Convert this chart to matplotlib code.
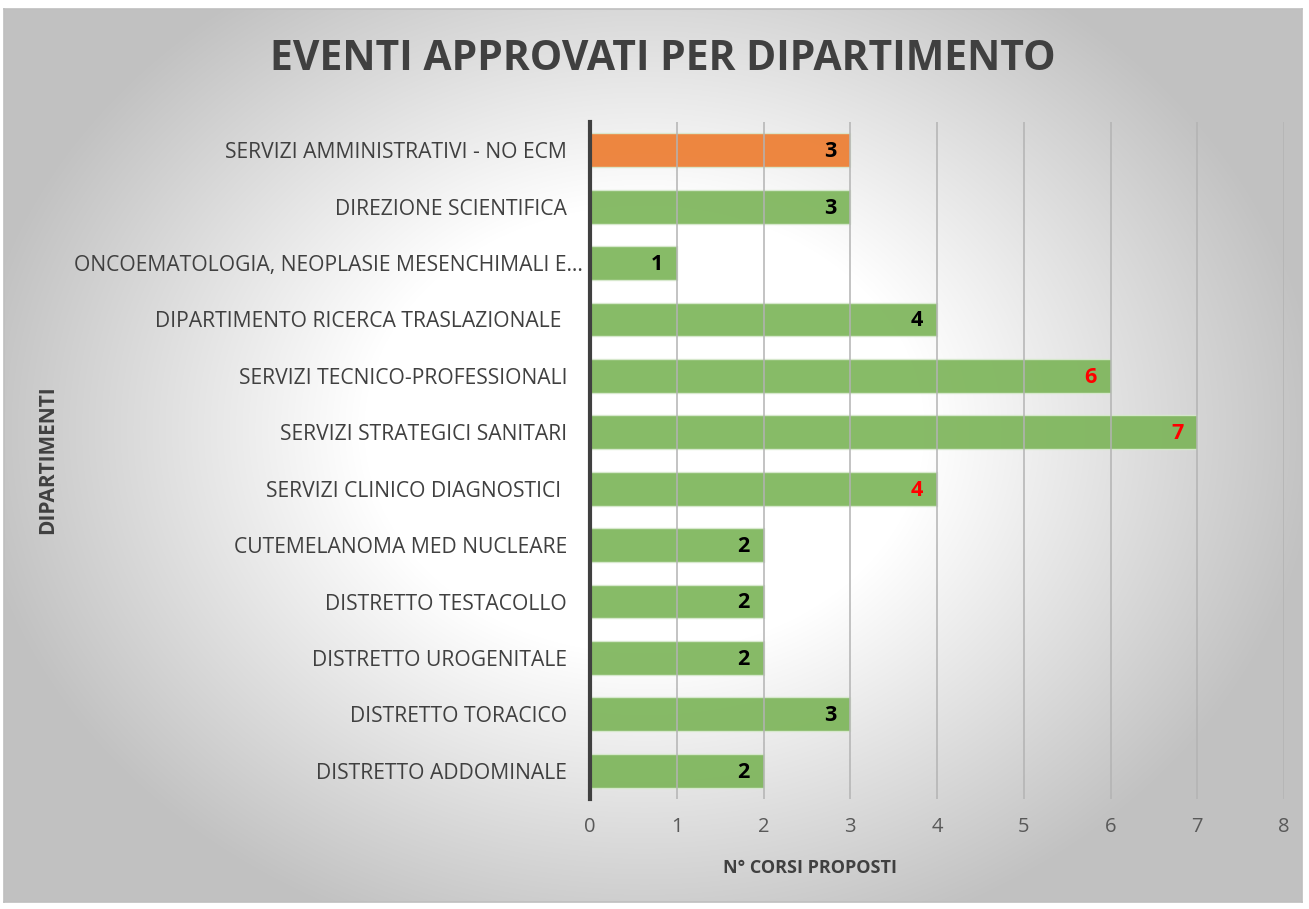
import numpy as np
import matplotlib.pyplot as plt

plt.rcParams['font.family'] = ['Open Sans', 'DejaVu Sans']

# ── Dati ──────────────────────────────────────────────────────────────────
dipartimenti = [
    'SERVIZI AMMINISTRATIVI - NO ECM',
    'DIREZIONE SCIENTIFICA',
    'ONCOEMATOLOGIA, NEOPLASIE MESENCHIMALI E…',
    'DIPARTIMENTO RICERCA TRASLAZIONALE ',
    'SERVIZI TECNICO-PROFESSIONALI',
    'SERVIZI STRATEGICI SANITARI',
    'SERVIZI CLINICO DIAGNOSTICI ',
    'CUTEMELANOMA MED NUCLEARE',
    'DISTRETTO TESTACOLLO',
    'DISTRETTO UROGENITALE',
    'DISTRETTO TORACICO',
    'DISTRETTO ADDOMINALE',
]
corsi = [3, 3, 1, 4, 6, 7, 4, 2, 2, 2, 3, 2]
evidenziati = [False, False, False, False, True, True, True,
               False, False, False, False, False]
x_ticks = [0, 1, 2, 3, 4, 5, 6, 7, 8]

VERDE = '#7DB55A'
ARANCIO = '#ED7D31'
TESTO = '#404040'

fig = plt.figure(figsize=(13.09, 9.09), dpi=100)
fig.patch.set_facecolor('white')

# ── Sfondo con gradiente radiale ─────────────────────────────────────────
bg = fig.add_axes([4 / 1309, 1 - 902 / 909, 1298 / 1309, 893 / 909])
h, w = 893, 1298
yy, xx = np.mgrid[0:h, 0:w]
dx = xx - 640
dy = (yy - 420) * 1.25
r = np.sqrt(dx ** 2 + dy ** 2)
val = 1 - 0.22 * np.clip((r - 280) / 360, 0, None)
val = np.clip(val, 0.76, 1)
bg.imshow(np.dstack([val, val, val]), aspect='auto', extent=[0, 1, 0, 1])
bg.set_xticks([])
bg.set_yticks([])
for s in bg.spines.values():
    s.set_color('#bfbfbf')
    s.set_linewidth(1.2)

# ── Grafico ──────────────────────────────────────────────────────────────
ax = fig.add_axes([590 / 1309, 1 - 799 / 909, 694 / 1309, 677 / 909])
ax.patch.set_alpha(0)

y = np.arange(len(dipartimenti))
colori = [ARANCIO] + [VERDE] * (len(dipartimenti) - 1)
ax.barh(y, corsi, height=0.6, color=colori, alpha=0.92,
        edgecolor='#d9ead0', linewidth=1.0, zorder=2)

for yi, v, rosso in zip(y, corsi, evidenziati):
    ax.annotate(str(v), xy=(v, yi), xytext=(-10, -1), textcoords='offset points',
                ha='right', va='center', fontsize=15.5, fontweight='bold',
                color='#ff0000' if rosso else 'black', zorder=4)

ax.set_ylim(len(dipartimenti) - 0.5, -0.5)
ax.set_xlim(0, 8)
ax.set_xticks(x_ticks)
ax.set_yticks(y)
ax.set_yticklabels(dipartimenti, fontsize=15.2, color=TESTO)
ax.tick_params(axis='y', length=0, pad=16.5)
ax.tick_params(axis='x', length=0, pad=13, labelsize=14.5, labelcolor='#595959')
# in Excel l'etichetta troncata sporge un po' a destra
ax.get_yticklabels()[2].set_x(16 / 694)

ax.xaxis.grid(True, color='#b3b3b3', linewidth=1.1, zorder=3)
ax.set_axisbelow(False)
for s in ['top', 'right', 'bottom']:
    ax.spines[s].set_visible(False)
ax.spines['left'].set_color(TESTO)
ax.spines['left'].set_linewidth(3)
ax.spines['left'].set_zorder(5)

# ── Titoli ───────────────────────────────────────────────────────────────
fig.text(663 / 1309, 1 - 60 / 909, 'EVENTI APPROVATI PER DIPARTIMENTO',
         ha='center', va='center', fontsize=29.4, fontweight='bold', color=TESTO)
fig.text(810 / 1309, 1 - 868 / 909, 'N° CORSI PROPOSTI',
         ha='center', va='center', fontsize=13, fontweight='bold', color=TESTO)
fig.text(48 / 1309, 1 - 460 / 909, 'DIPARTIMENTI', rotation=90,
         ha='center', va='center', fontsize=15, fontweight='bold', color=TESTO)

plt.savefig('out.png', dpi=100)
